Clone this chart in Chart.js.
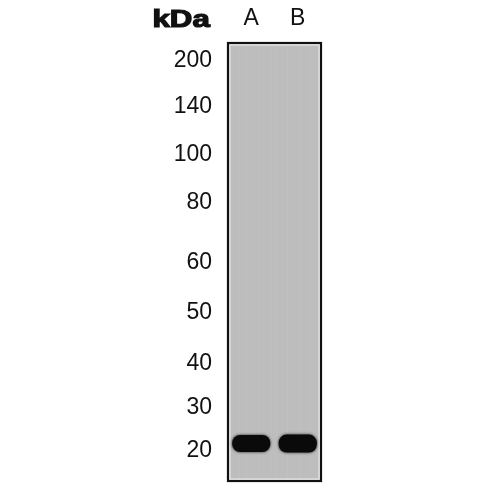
<!DOCTYPE html>
<html>
<head>
<meta charset="utf-8">
<script src="https://cdn.jsdelivr.net/npm/chart.js@4.4.1/dist/chart.umd.min.js"></script>
<style>
html,body{margin:0;padding:0;background:#fff;}
#wrap{width:500px;height:500px;}
</style>
</head>
<body>
<div id="wrap"><canvas id="c" width="500" height="500"></canvas></div>
<script>
// Lanes
const lanes = ['A', 'B'];
// Molecular-weight marker ladder (kDa) and their migration (% of blot height from top)
const markerKDa = ['200', '140', '100', '80', '60', '50', '40', '30', '20'];
const markerMigration = [4.0, 14.5, 25.6, 36.5, 50.2, 61.6, 73.1, 83.2, 93.1];
// Detected band per lane: migration top / bottom (% of blot height)
const bandTop = [89.5, 89.4];
const bandBottom = [93.4, 93.5];

const blotPlugin = {
  id: 'blot',
  beforeDatasetsDraw(chart) {
    const {ctx, chartArea: a} = chart;
    ctx.save();
    ctx.fillStyle = '#ececec';
    ctx.fillRect(a.left, a.top, a.right - a.left, a.bottom - a.top);
    ctx.fillStyle = '#bdbdbd';
    ctx.fillRect(a.left + 2.5, a.top + 2.5, a.right - a.left - 5, a.bottom - a.top - 5);
    ctx.globalAlpha = 0.06;
    ctx.strokeStyle = '#ffffff';
    ctx.lineWidth = 1;
    const w = a.right - a.left;
    [0.12, 0.2, 0.33, 0.47, 0.52, 0.64, 0.78, 0.88].forEach(f => {
      ctx.beginPath();
      ctx.moveTo(a.left + f * w, a.top + 3);
      ctx.lineTo(a.left + f * w, a.bottom - 3);
      ctx.stroke();
    });
    ctx.restore();
    ctx.save();
    ctx.shadowColor = 'rgba(0,0,0,0.85)';
    ctx.shadowBlur = 3;
  },
  afterDatasetsDraw(chart) {
    const {ctx, chartArea: a} = chart;
    ctx.restore();
    ctx.save();
    ctx.strokeStyle = '#111';
    ctx.lineWidth = 2.2;
    ctx.strokeRect(a.left, a.top, a.right - a.left, a.bottom - a.top);
    ctx.restore();
  },
  afterDraw(chart) {
    const {ctx} = chart;
    ctx.save();
    ctx.fillStyle = '#111';
    ctx.strokeStyle = '#111';
    ctx.lineWidth = 1.2;
    ctx.font = 'bold 24px "Liberation Sans", Arial, sans-serif';
    ctx.textBaseline = 'alphabetic';
    ctx.textAlign = 'left';
    ctx.translate(152.5, 26.5);
    ctx.scale(1.3, 1);
    ctx.fillText('kDa', 0, 0);
    ctx.strokeText('kDa', 0, 0);
    ctx.restore();
  }
};

new Chart(document.getElementById('c'), {
  type: 'bar',
  data: {
    labels: lanes,
    datasets: [{
      data: lanes.map((l, i) => [bandTop[i], bandBottom[i]]),
      backgroundColor: '#0a0a0a',
      borderWidth: 0,
      borderSkipped: false,
      borderRadius: 8,
      barPercentage: 0.82,
      categoryPercentage: 1
    }]
  },
  plugins: [blotPlugin],
  options: {
    responsive: false,
    animation: false,
    devicePixelRatio: 1,
    layout: {padding: {left: 0, right: 179, top: 0, bottom: 19}},
    plugins: {legend: {display: false}, tooltip: {enabled: false}, title: {display: false}},
    scales: {
      x: {
        position: 'top',
        offset: true,
        grid: {display: false, drawTicks: false},
        border: {display: false},
        ticks: {
          padding: 11,
          color: '#111',
          font: {family: '"Liberation Sans", Arial, sans-serif', size: 23}
        },
        afterFit(s) { s.height = 43; s.paddingLeft = 0; s.paddingRight = 0; }
      },
      y: {
        type: 'linear',
        reverse: true,
        min: 0,
        max: 100,
        grid: {display: false, drawTicks: false},
        border: {display: false},
        afterBuildTicks(s) { s.ticks = markerMigration.map(v => ({value: v})); },
        ticks: {
          padding: 16,
          color: '#111',
          autoSkip: false,
          font: {family: '"Liberation Sans", Arial, sans-serif', size: 23},
          callback(v, i) { return markerKDa[i]; }
        },
        afterFit(s) { s.width = 228; s.paddingTop = 0; s.paddingBottom = 0; }
      }
    }
  }
});
</script>
</body>
</html>
